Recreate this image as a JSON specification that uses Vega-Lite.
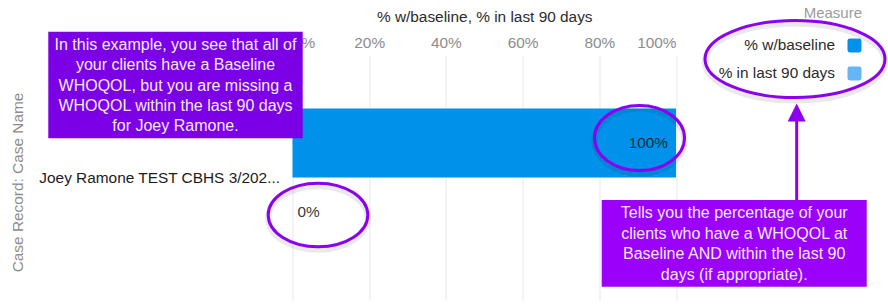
{
  "$schema": "https://vega.github.io/schema/vega-lite/v6.json",
  "autosize": {"type": "none"},
  "width": 383.5,
  "height": 245,
  "padding": {"left": 292.5, "top": 55, "right": 212, "bottom": 7},
  "background": "white",
  "config": {
    "font": "Liberation Sans",
    "view": {"stroke": null},
    "axis": {"labelFont": "Liberation Sans", "titleFont": "Liberation Sans"}
  },
  "datasets": {
    "bars": [
      {"case": "Joey Ramone TEST CBHS 3/202...", "measure": "% w/baseline", "value": 1},
      {"case": "Joey Ramone TEST CBHS 3/202...", "measure": "% in last 90 days", "value": 0}
    ],
    "legendItems": [
      {"measure": "% w/baseline", "lx": 1.4146, "sx": 1.4654, "y": 1.0388},
      {"measure": "% in last 90 days", "lx": 1.4146, "sx": 1.4654, "y": 0.9245}
    ],
    "ellipse100": [{"x": 0.9048, "y": 0.6612}],
    "ellipse0": [{"x": 0.0665, "y": 0.3469}],
    "ellipseLegend": [{"x": 1.3103, "y": 0.9837}]
  },
  "layer": [
    {
      "data": {"name": "bars"},
      "layer": [
        {
          "mark": {"type": "bar"},
          "encoding": {
            "y": {
              "field": "case", "type": "nominal",
              "scale": {"paddingOuter": 0.3877, "paddingInner": 0},
              "title": "Case Record: Case Name",
              "axis": {"ticks": false, "domain": false, "grid": false, "labelFontSize": 15.4, "labelColor": "#1c1c1c", "labelPadding": 13, "labelLimit": 400,
                        "titleFontSize": 15.4, "titleFontWeight": "normal", "titleColor": "#8c8c8c", "titleX": -275.5, "titleY": 127, "titleAngle": 270, "titleBaseline": "middle", "titleAlign": "center"}
            },
            "yOffset": {"field": "measure", "type": "nominal", "sort": ["% w/baseline", "% in last 90 days"], "scale": {"paddingInner": 0, "paddingOuter": 0}},
            "x": {
              "field": "value", "type": "quantitative",
              "scale": {"domain": [0, 1], "nice": false},
              "title": "% w/baseline, % in last 90 days",
              "axis": {"orient": "top", "format": ".0%", "values": [0, 0.2, 0.4, 0.6, 0.8, 1], "ticks": false, "domain": false, "grid": true, "labelFlush": true,
                       "labelFontSize": 15.4, "labelColor": "#8c8c8c", "labelPadding": 5,
                       "gridColor": "#e1e7ef", "gridWidth": 1,
                       "titleFontSize": 15.4, "titleFontWeight": "normal", "titleColor": "#2b2b2b", "titlePadding": 11}
            },
            "color": {
              "field": "measure", "type": "nominal",
              "scale": {"domain": ["% w/baseline", "% in last 90 days"], "range": ["#0091ea", "#66b5f5"]},
              "legend": null
            }
          }
        },
        {
          "transform": [{"filter": "datum.value >= 0.5"}],
          "mark": {"type": "text", "align": "right", "baseline": "middle", "dx": -8, "fontSize": 15.4, "color": "#1f2a37"},
          "encoding": {
            "y": {"field": "case", "type": "nominal", "scale": {"paddingOuter": 0.3877, "paddingInner": 0}, "title": "Case Record: Case Name",
                  "axis": {"ticks": false, "domain": false, "grid": false, "labelFontSize": 15.4, "labelColor": "#1c1c1c", "labelPadding": 13, "labelLimit": 400,
                           "titleFontSize": 15.4, "titleFontWeight": "normal", "titleColor": "#8c8c8c", "titleX": -275.5, "titleY": 127, "titleAngle": 270, "titleBaseline": "middle", "titleAlign": "center"}},
            "yOffset": {"field": "measure", "type": "nominal", "sort": ["% w/baseline", "% in last 90 days"], "scale": {"paddingInner": 0, "paddingOuter": 0}},
            "x": {"field": "value", "type": "quantitative", "scale": {"domain": [0, 1], "nice": false}, "title": "% w/baseline, % in last 90 days",
                  "axis": {"orient": "top", "format": ".0%", "values": [0, 0.2, 0.4, 0.6, 0.8, 1], "ticks": false, "domain": false, "grid": true, "labelFlush": true,
                           "labelFontSize": 15.4, "labelColor": "#8c8c8c", "labelPadding": 5,
                           "gridColor": "#e1e7ef", "gridWidth": 1,
                           "titleFontSize": 15.4, "titleFontWeight": "normal", "titleColor": "#2b2b2b", "titlePadding": 11}},
            "text": {"field": "value", "type": "quantitative", "format": ".0%"}
          }
        },
        {
          "transform": [{"filter": "datum.value < 0.5"}],
          "mark": {"type": "text", "align": "left", "baseline": "middle", "dx": 5, "fontSize": 15.4, "color": "#3a3a3a"},
          "encoding": {
            "y": {"field": "case", "type": "nominal", "scale": {"paddingOuter": 0.3877, "paddingInner": 0}, "title": "Case Record: Case Name",
                  "axis": {"ticks": false, "domain": false, "grid": false, "labelFontSize": 15.4, "labelColor": "#1c1c1c", "labelPadding": 13, "labelLimit": 400,
                           "titleFontSize": 15.4, "titleFontWeight": "normal", "titleColor": "#8c8c8c", "titleX": -275.5, "titleY": 127, "titleAngle": 270, "titleBaseline": "middle", "titleAlign": "center"}},
            "yOffset": {"field": "measure", "type": "nominal", "sort": ["% w/baseline", "% in last 90 days"], "scale": {"paddingInner": 0, "paddingOuter": 0}},
            "x": {"field": "value", "type": "quantitative", "scale": {"domain": [0, 1], "nice": false}, "title": "% w/baseline, % in last 90 days",
                  "axis": {"orient": "top", "format": ".0%", "values": [0, 0.2, 0.4, 0.6, 0.8, 1], "ticks": false, "domain": false, "grid": true, "labelFlush": true,
                           "labelFontSize": 15.4, "labelColor": "#8c8c8c", "labelPadding": 5,
                           "gridColor": "#e1e7ef", "gridWidth": 1,
                           "titleFontSize": 15.4, "titleFontWeight": "normal", "titleColor": "#2b2b2b", "titlePadding": 11}},
            "text": {"field": "value", "type": "quantitative", "format": ".0%"}
          }
        }
      ]
    },
    {
      "data": {"values": [{"x": 1.485, "y": 1.1714, "t": "Measure"}]},
      "mark": {"type": "text", "align": "right", "baseline": "middle", "fontSize": 15, "color": "#9a9a9a"},
      "encoding": {
        "x": {"field": "x", "type": "quantitative", "scale": {"domain": [0, 1], "nice": false}, "axis": null},
        "y": {"field": "y", "type": "quantitative", "scale": {"domain": [0, 1], "nice": false, "zero": false}, "axis": null},
        "text": {"field": "t", "type": "nominal"}
      }
    },
    {
      "data": {"name": "legendItems"},
      "mark": {"type": "text", "align": "right", "baseline": "middle", "fontSize": 15.4, "color": "#2b2b2b"},
      "encoding": {
        "x": {"field": "lx", "type": "quantitative", "scale": {"domain": [0, 1], "nice": false}, "axis": null},
        "y": {"field": "y", "type": "quantitative", "scale": {"domain": [0, 1], "nice": false, "zero": false}, "axis": null},
        "text": {"field": "measure", "type": "nominal"}
      }
    },
    {
      "data": {"name": "legendItems"},
      "mark": {"type": "point", "shape": "M -0.65 -1 H 0.65 Q 1 -1 1 -0.65 V 0.65 Q 1 1 0.65 1 H -0.65 Q -1 1 -1 0.65 V -0.65 Q -1 -1 -0.65 -1 Z", "size": 196, "filled": true, "opacity": 1, "strokeWidth": 0},
      "encoding": {
        "x": {"field": "sx", "type": "quantitative", "scale": {"domain": [0, 1], "nice": false}, "axis": null},
        "y": {"field": "y", "type": "quantitative", "scale": {"domain": [0, 1], "nice": false, "zero": false}, "axis": null},
        "color": {"field": "measure", "type": "nominal", "scale": {"domain": ["% w/baseline", "% in last 90 days"], "range": ["#0091ea", "#66b5f5"]}, "legend": null}
      }
    },
    {
      "data": {"values": [{"x1": -0.6368, "x2": 0.0266, "y1": 0.66, "y2": 1.0951}]},
      "mark": {"type": "rect", "fill": "#7b00e6"},
      "encoding": {
        "x": {"field": "x1", "type": "quantitative", "scale": {"domain": [0, 1], "nice": false}, "axis": null},
        "x2": {"field": "x2"},
        "y": {"field": "y1", "type": "quantitative", "scale": {"domain": [0, 1], "nice": false, "zero": false}, "axis": null},
        "y2": {"field": "y2"}
      }
    },
    {
      "data": {"values": [{"x": -0.3051, "y": 1.0408, "note": "In this example, you see that all of\nyour clients have a Baseline\nWHOQOL, but you are missing a\nWHOQOL within the last 90 days\nfor Joey Ramone."}]},
      "mark": {"type": "text", "align": "center", "baseline": "middle", "lineBreak": "\n", "lineHeight": 20.3, "fontSize": 16, "color": "#f3eaff"},
      "encoding": {
        "x": {"field": "x", "type": "quantitative", "scale": {"domain": [0, 1], "nice": false}, "axis": null},
        "y": {"field": "y", "type": "quantitative", "scale": {"domain": [0, 1], "nice": false, "zero": false}, "axis": null},
        "text": {"field": "note", "type": "nominal"}
      }
    },
    {
      "data": {"values": [{"x1": 0.8063, "x2": 1.4973, "y1": 0.0543, "y2": 0.4082}]},
      "mark": {"type": "rect", "fill": "#9a00fa"},
      "encoding": {
        "x": {"field": "x1", "type": "quantitative", "scale": {"domain": [0, 1], "nice": false}, "axis": null},
        "x2": {"field": "x2"},
        "y": {"field": "y1", "type": "quantitative", "scale": {"domain": [0, 1], "nice": false, "zero": false}, "axis": null},
        "y2": {"field": "y2"}
      }
    },
    {
      "data": {"values": [{"x": 1.1518, "y": 0.3539, "note": "Tells you the percentage of your\nclients who have a WHOQOL at\nBaseline AND within the last 90\ndays (if appropriate)."}]},
      "mark": {"type": "text", "align": "center", "baseline": "middle", "lineBreak": "\n", "lineHeight": 20.5, "fontSize": 16, "color": "#f3eaff"},
      "encoding": {
        "x": {"field": "x", "type": "quantitative", "scale": {"domain": [0, 1], "nice": false}, "axis": null},
        "y": {"field": "y", "type": "quantitative", "scale": {"domain": [0, 1], "nice": false, "zero": false}, "axis": null},
        "text": {"field": "note", "type": "nominal"}
      }
    },
    {
      "data": {"values": [{"x": 1.3147, "y1": 0.7653, "y2": 0.4082}]},
      "mark": {"type": "rule", "color": "#8c00f0", "strokeWidth": 3},
      "encoding": {
        "x": {"field": "x", "type": "quantitative", "scale": {"domain": [0, 1], "nice": false}, "axis": null},
        "y": {"field": "y1", "type": "quantitative", "scale": {"domain": [0, 1], "nice": false, "zero": false}, "axis": null},
        "y2": {"field": "y2"}
      }
    },
    {
      "data": {"values": [{"x": 1.3147, "y": 0.7653}]},
      "mark": {"type": "point", "shape": "M 0 -1 L 1 1 L -1 1 Z", "size": 324, "filled": true, "color": "#8c00f0", "opacity": 1},
      "encoding": {
        "x": {"field": "x", "type": "quantitative", "scale": {"domain": [0, 1], "nice": false}, "axis": null},
        "y": {"field": "y", "type": "quantitative", "scale": {"domain": [0, 1], "nice": false, "zero": false}, "axis": null}
      }
    },
    {
      "data": {"name": "ellipse100"},
      "mark": {"type": "point", "shape": "M -1 0 A 1 0.722 0 1 1 1 0 A 1 0.722 0 1 1 -1 0 Z", "size": 8100, "filled": false, "stroke": "#000000", "strokeOpacity": 0.12, "strokeWidth": 6, "yOffset": 3},
      "encoding": {
        "x": {"field": "x", "type": "quantitative", "scale": {"domain": [0, 1], "nice": false}, "axis": null},
        "y": {"field": "y", "type": "quantitative", "scale": {"domain": [0, 1], "nice": false, "zero": false}, "axis": null}
      }
    },
    {
      "data": {"name": "ellipse100"},
      "mark": {"type": "point", "shape": "M -1 0 A 1 0.722 0 1 1 1 0 A 1 0.722 0 1 1 -1 0 Z", "size": 8100, "filled": false, "stroke": "#8c00f0", "strokeWidth": 3, "opacity": 1},
      "encoding": {
        "x": {"field": "x", "type": "quantitative", "scale": {"domain": [0, 1], "nice": false}, "axis": null},
        "y": {"field": "y", "type": "quantitative", "scale": {"domain": [0, 1], "nice": false, "zero": false}, "axis": null}
      }
    },
    {
      "data": {"name": "ellipse0"},
      "mark": {"type": "point", "shape": "M -1 0 A 1 0.639 0 1 1 1 0 A 1 0.639 0 1 1 -1 0 Z", "size": 9920, "filled": false, "stroke": "#000000", "strokeOpacity": 0.12, "strokeWidth": 6, "yOffset": 3},
      "encoding": {
        "x": {"field": "x", "type": "quantitative", "scale": {"domain": [0, 1], "nice": false}, "axis": null},
        "y": {"field": "y", "type": "quantitative", "scale": {"domain": [0, 1], "nice": false, "zero": false}, "axis": null}
      }
    },
    {
      "data": {"name": "ellipse0"},
      "mark": {"type": "point", "shape": "M -1 0 A 1 0.639 0 1 1 1 0 A 1 0.639 0 1 1 -1 0 Z", "size": 9920, "filled": false, "stroke": "#8c00f0", "strokeWidth": 3, "opacity": 1},
      "encoding": {
        "x": {"field": "x", "type": "quantitative", "scale": {"domain": [0, 1], "nice": false}, "axis": null},
        "y": {"field": "y", "type": "quantitative", "scale": {"domain": [0, 1], "nice": false, "zero": false}, "axis": null}
      }
    },
    {
      "data": {"name": "ellipseLegend"},
      "mark": {"type": "point", "shape": "M -1 0 A 1 0.428 0 1 1 1 0 A 1 0.428 0 1 1 -1 0 Z", "size": 32400, "filled": false, "stroke": "#000000", "strokeOpacity": 0.12, "strokeWidth": 6, "yOffset": 3},
      "encoding": {
        "x": {"field": "x", "type": "quantitative", "scale": {"domain": [0, 1], "nice": false}, "axis": null},
        "y": {"field": "y", "type": "quantitative", "scale": {"domain": [0, 1], "nice": false, "zero": false}, "axis": null}
      }
    },
    {
      "data": {"name": "ellipseLegend"},
      "mark": {"type": "point", "shape": "M -1 0 A 1 0.428 0 1 1 1 0 A 1 0.428 0 1 1 -1 0 Z", "size": 32400, "filled": false, "stroke": "#8c00f0", "strokeWidth": 3, "opacity": 1},
      "encoding": {
        "x": {"field": "x", "type": "quantitative", "scale": {"domain": [0, 1], "nice": false}, "axis": null},
        "y": {"field": "y", "type": "quantitative", "scale": {"domain": [0, 1], "nice": false, "zero": false}, "axis": null}
      }
    }
  ],
  "resolve": {"scale": {"x": "independent", "y": "independent"}}
}
